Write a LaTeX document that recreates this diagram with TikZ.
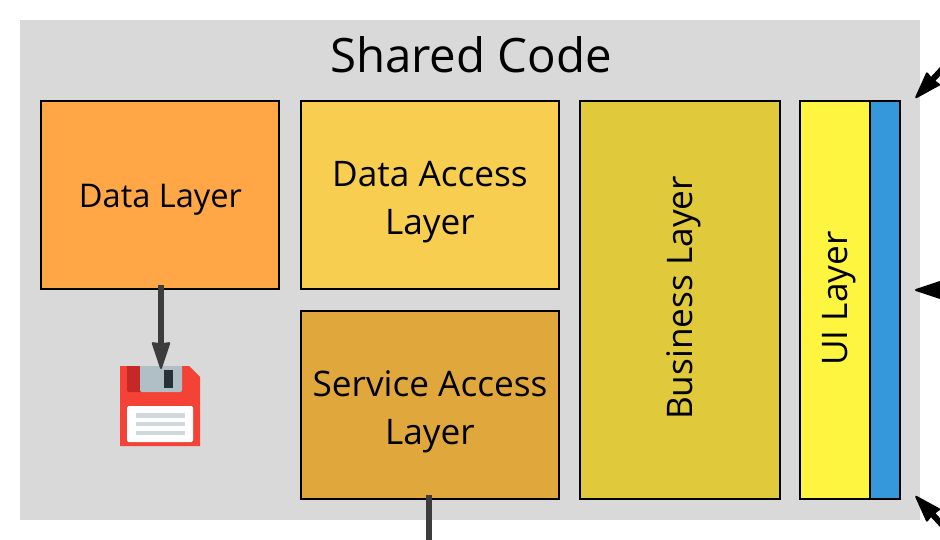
\documentclass[tikz,border=0pt]{standalone}
\usepackage{fontspec}
\setmainfont{Open Sans}
\usetikzlibrary{arrows.meta}
\definecolor{panel}{HTML}{D9D9D9}
\definecolor{cData}{HTML}{FFA647}
\definecolor{cDal}{HTML}{F7CE50}
\definecolor{cSal}{HTML}{E0A83C}
\definecolor{cBiz}{HTML}{E0C93A}
\definecolor{cUi}{HTML}{FDF53F}
\definecolor{cBlue}{HTML}{3498DB}
\definecolor{cShaft}{HTML}{3C3C3C}
\definecolor{fRed}{HTML}{F44336}
\definecolor{fDark}{HTML}{C62828}
\definecolor{fGrey}{HTML}{B0BEC5}
\definecolor{fSlot}{HTML}{263238}
\definecolor{fLine}{HTML}{CFD8DC}
\tikzset{
  x=1pt,y=-1pt,
  layerbox/.style={draw=black,line width=2pt,inner sep=0pt,outer sep=0pt},
  layertext/.style={inner sep=0pt,align=center,font=\fontsize{35.2}{48}\selectfont},
  conn/.style={line width=6pt,-{Stealth[length=29pt,width=19pt,inset=1pt,round,line width=2pt]}},
}
\begin{document}
\begin{tikzpicture}
\useasboundingbox (0,0) rectangle (940,540);
\node[fill=panel,minimum width=900pt,minimum height=500pt,inner sep=0pt,outer sep=0pt] (shared) at (470,270) {};
\node[font=\fontsize{47.4}{52}\selectfont,inner sep=0pt] (title) at (471,55) {Shared Code};
\node[layerbox,fill=cData,minimum width=238pt,minimum height=188pt] (data) at (160,195) {};
\node[inner sep=0pt,font=\fontsize{32.6}{48}\selectfont] (datalabel) at (160.5,200) {Data Layer};
\node[layerbox,fill=cDal,minimum width=258pt,minimum height=188pt] (dal) at (430,195) {};
\node[layertext] (dallabel) at (430,202) {Data Access\\Layer};
\node[layerbox,fill=cSal,minimum width=258pt,minimum height=188pt] (sal) at (430,405) {};
\node[layertext] (sallabel) at (430,412) {Service Access\\Layer};
\node[layerbox,fill=cBiz,minimum width=200pt,minimum height=398pt] (biz) at (680,300) {};
\node[layertext,rotate=90] (bizlabel) at (684,298) {Business Layer};
\node[layerbox,fill=cUi,minimum width=70pt,minimum height=398pt] (ui) at (835,300) {};
\node[layertext,rotate=90] (uilabel) at (839.5,298.5) {UI Layer};
\node[layerbox,fill=cBlue,minimum width=30pt,minimum height=398pt] (blue) at (885,300) {};
% floppy disk
\node[minimum width=80pt,minimum height=80pt,inner sep=0pt,outer sep=0pt] (disk) at (160,406) {};
\fill[fRed] (120,366) -- (189,366) -- (200,377) -- (200,446) -- (120,446) -- cycle;
\begin{scope}
\clip (120,366) rectangle (200,446);
\fill[fDark,rounded corners=2pt] (127,360) rectangle (146,392);
\fill[fGrey,rounded corners=2pt] (140,360) rectangle (182,392);
\end{scope}
\fill[fSlot] (164,370) rectangle (173,388);
\fill[white,rounded corners=1.5pt] (127,406) rectangle (193,442);
\fill[fLine] (136,413) rectangle (185,417.5);
\fill[fLine] (136,421.5) rectangle (185,426);
\fill[fLine] (136,430.5) rectangle (185,435);
% connectors
\draw[conn,cShaft,shorten <=-4pt,shorten >=-3pt] ([xshift=1pt]data.south) -- ([xshift=1pt]disk.north);
\coordinate (salend) at (429,560);
\draw[cShaft,line width=6pt,shorten <=-4pt] ([xshift=-1pt]sal.south) -- (salend);
\coordinate (a1) at (952.5,58);
\coordinate (a2) at (960,290);
\coordinate (a3) at (952.5,536);
\coordinate (t1) at (915.5,98);
\coordinate (t2) at (915,290);
\coordinate (t3) at (915.5,496);
\draw[conn,black] (a1) -- (t1);
\draw[conn,black] (a2) -- (t2);
\draw[conn,black] (a3) -- (t3);
\end{tikzpicture}
\end{document}
